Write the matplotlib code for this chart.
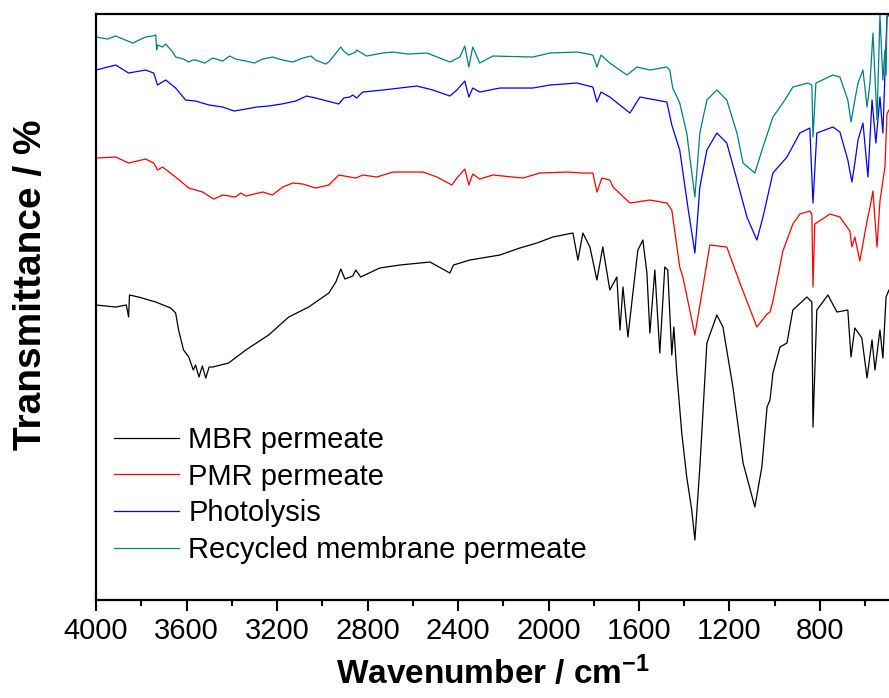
import matplotlib
matplotlib.use("Agg")
import matplotlib.pyplot as plt
from matplotlib.ticker import MultipleLocator

plt.rcParams["font.family"] = ["Liberation Sans", "DejaVu Sans"]
plt.rcParams["mathtext.fontset"] = "custom"
plt.rcParams["mathtext.rm"] = "Liberation Sans:bold"
plt.rcParams["mathtext.default"] = "rm"

# ---------------------------------------------------------------- data
# FTIR spectra (transmittance, arbitrary offset units)
mbr_wn = [4000, 3913, 3866, 3856, 3852, 3812, 3736, 3670, 3648, 3635, 3613, 3590,
          3570, 3560, 3545, 3530, 3515, 3500, 3484, 3414, 3338, 3237, 3148, 3060,
          2971, 2940, 2918, 2900, 2865, 2852, 2830, 2746, 2657, 2524, 2436, 2420,
          2348, 2215, 2127, 2051, 1981, 1892, 1870, 1848, 1817, 1786, 1760, 1729,
          1698, 1684, 1671, 1649, 1627, 1605, 1583, 1565, 1552, 1530, 1508, 1486,
          1473, 1455, 1446, 1433, 1411, 1389, 1367, 1353, 1331, 1300, 1256, 1229,
          1185, 1140, 1088, 1057, 1034, 1021, 1008, 977, 946, 920, 858, 836, 831,
          814, 765, 725, 677, 663, 646, 615, 592, 570, 557, 535, 522, 508, 495]
mbr_t = [59.0, 58.6, 59.0, 56.6, 61.0, 60.6, 59.6, 58.4, 57.4, 54.0, 50.0, 48.6,
         46.0, 47.0, 44.6, 46.8, 44.4, 46.6, 46.6, 47.4, 50.0, 53.0, 56.6, 58.6,
         61.4, 63.6, 66.2, 64.2, 64.8, 66.0, 64.6, 66.4, 67.0, 67.6, 65.4, 67.0,
         68.0, 69.0, 70.4, 71.4, 72.6, 73.4, 68.0, 73.4, 70.6, 64.0, 70.6, 62.0,
         64.6, 54.0, 62.6, 52.6, 61.4, 70.0, 72.0, 65.4, 53.4, 66.0, 49.4, 66.6,
         66.0, 49.0, 54.6, 45.4, 33.4, 24.6, 18.0, 12.0, 26.6, 51.4, 57.0, 54.6,
         42.6, 27.4, 18.6, 26.6, 38.6, 40.0, 45.4, 50.6, 51.4, 58.0, 60.6, 59.6,
         34.6, 58.0, 61.0, 57.6, 58.0, 48.6, 54.4, 52.4, 44.4, 52.0, 46.0, 54.0,
         48.4, 60.6, 62.0]

pmr_wn = [4000, 3913, 3856, 3781, 3745, 3728, 3706, 3648, 3590, 3529, 3480, 3440,
          3383, 3360, 3338, 3263, 3220, 3175, 3130, 3086, 3030, 2971, 2927, 2852,
          2821, 2759, 2688, 2555, 2493, 2427, 2405, 2370, 2352, 2335, 2304, 2246,
          2113, 2038, 1919, 1848, 1804, 1786, 1764, 1729, 1715, 1640, 1552, 1477,
          1455, 1420, 1406, 1353, 1322, 1287, 1212, 1154, 1079, 1034, 1021, 1008,
          964, 920, 889, 845, 836, 831, 823, 756, 712, 668, 659, 646, 624, 592, 579,
          566, 548, 535, 513, 504, 495]
pmr_t = [88.4, 88.6, 87.4, 88.2, 87.4, 86.0, 86.6, 84.6, 82.4, 81.6, 80.2, 81.0,
         80.6, 81.4, 80.8, 81.6, 81.0, 82.6, 83.4, 83.2, 82.4, 83.0, 85.0, 84.4,
         85.0, 84.6, 85.6, 85.6, 84.6, 83.0, 84.4, 86.2, 83.0, 85.2, 84.2, 85.0,
         84.4, 85.4, 85.6, 85.4, 85.4, 81.6, 84.4, 84.0, 82.6, 79.4, 80.0, 79.4,
         78.0, 66.6, 64.6, 53.0, 61.4, 71.0, 70.6, 63.4, 54.6, 57.2, 57.6, 59.8,
         69.8, 75.2, 77.2, 77.8, 77.2, 62.6, 75.2, 77.2, 76.6, 73.8, 70.6, 72.6,
         67.8, 75.8, 78.6, 81.8, 70.6, 79.8, 86.6, 97.2, 98.0]

pho_wn = [4000, 3913, 3856, 3781, 3745, 3728, 3692, 3648, 3604, 3560, 3500, 3440,
          3390, 3338, 3290, 3237, 3180, 3117, 3070, 3029, 2927, 2905, 2879, 2865,
          2848, 2821, 2733, 2582, 2511, 2436, 2405, 2370, 2352, 2335, 2304, 2215,
          2069, 1994, 1875, 1804, 1786, 1768, 1729, 1640, 1596, 1477, 1455, 1420,
          1384, 1353, 1331, 1300, 1256, 1212, 1167, 1123, 1079, 1052, 1008, 946,
          889, 845, 831, 814, 743, 712, 677, 659, 646, 632, 610, 588, 570, 553,
          535, 522, 504, 495]
pho_t = [106.0, 107.0, 105.4, 106.0, 105.4, 103.0, 104.0, 102.4, 100.0, 99.8,
         99.0, 98.6, 97.8, 98.2, 98.6, 98.8, 99.2, 99.8, 100.8, 100.4, 99.2,
         100.4, 100.6, 101.0, 100.4, 101.6, 102.0, 102.8, 102.0, 100.8, 102.0,
         103.8, 100.6, 102.4, 101.6, 102.4, 102.4, 103.0, 103.4, 102.6, 99.6,
         101.6, 100.6, 97.4, 100.6, 99.6, 95.0, 90.0, 78.6, 69.4, 82.6, 90.0,
         93.4, 91.4, 84.0, 76.6, 72.0, 76.6, 85.4, 88.6, 93.4, 94.4, 79.4, 93.4,
         94.6, 93.6, 88.0, 83.6, 87.4, 92.0, 95.4, 84.6, 100.0, 91.4, 100.6, 93.4,
         116.6, 117.0]

rec_wn = [4000, 3949, 3913, 3838, 3781, 3750, 3736, 3732, 3728, 3706, 3692, 3661,
          3648, 3613, 3590, 3573, 3560, 3520, 3484, 3440, 3410, 3383, 3338, 3300,
          3263, 3220, 3175, 3130, 3086, 3050, 3029, 2985, 2971, 2918, 2905, 2883,
          2852, 2848, 2804, 2733, 2688, 2620, 2537, 2436, 2392, 2370, 2352, 2335,
          2304, 2246, 2069, 1994, 1875, 1848, 1804, 1786, 1768, 1729, 1653, 1609,
          1552, 1477, 1464, 1451, 1420, 1389, 1353, 1331, 1300, 1256, 1212, 1167,
          1140, 1088, 1052, 1008, 964, 920, 853, 836, 831, 818, 743, 712, 677, 663,
          646, 632, 610, 592, 579, 566, 548, 535, 522, 513, 508, 504, 495]
rec_t = [112.6, 112.2, 112.8, 111.4, 112.6, 112.8, 113.0, 110.0, 111.0, 110.6,
         111.2, 109.6, 108.6, 108.2, 107.6, 108.0, 108.0, 107.4, 108.4, 107.8,
         108.8, 108.2, 107.8, 107.4, 108.2, 108.6, 108.0, 107.6, 108.4, 108.8,
         108.0, 107.2, 107.6, 110.6, 109.8, 109.0, 109.6, 110.0, 108.8, 109.4,
         109.6, 109.2, 109.4, 107.6, 108.6, 110.8, 106.6, 110.6, 107.4, 108.8,
         108.6, 109.4, 109.6, 109.4, 109.0, 106.6, 109.0, 107.4, 105.0, 106.6,
         106.0, 106.6, 106.0, 102.4, 99.4, 93.4, 80.6, 93.4, 100.0, 102.0, 100.0,
         93.4, 87.4, 85.4, 90.6, 96.6, 99.4, 102.6, 103.4, 103.0, 92.6, 103.4,
         105.0, 104.6, 100.0, 95.6, 100.0, 103.4, 106.0, 98.6, 103.4, 113.4, 96.0,
         117.0, 104.0, 110.0, 105.0, 117.0, 117.0]

labels = ["MBR permeate", "PMR permeate", "Photolysis", "Recycled membrane permeate"]
colors = ["black", "#ff0000", "#0000ff", "#008080"]

# ---------------------------------------------------------------- plot
fig = plt.figure(figsize=(8.89, 6.98), dpi=100)
ax = fig.add_axes([0.108, 0.1404, 0.892, 0.8395])

series = [(mbr_wn, mbr_t), (pmr_wn, pmr_t), (pho_wn, pho_t), (rec_wn, rec_t)]
for (wn, t), lab, c in zip(series, labels, colors):
    ax.plot(wn, t, color=c, lw=0.9, label=lab)

ax.set_xlim(4000, 495)
ax.set_ylim(0, 117.2)
ax.xaxis.set_major_locator(MultipleLocator(400))
ax.xaxis.set_minor_locator(MultipleLocator(200))
ax.set_yticks([])
ax.tick_params(axis="x", which="major", direction="out", length=8, width=1.5,
               labelsize=21, pad=4)
ax.tick_params(axis="x", which="minor", direction="out", length=4.5, width=1.5)
for s in ("left", "top", "bottom"):
    ax.spines[s].set_linewidth(1.6)
ax.spines["right"].set_visible(False)

ax.set_xlabel(r"Wavenumber / cm$^{-1}$", fontsize=24, fontweight="bold",
              labelpad=8)
ax.set_ylabel("Transmittance / %", fontsize=28, fontweight="bold")
ax.yaxis.set_label_coords(-0.059, 0.5375)

ax.legend(loc="upper left", bbox_to_anchor=(0.128, 0.39),
          bbox_transform=fig.transFigure, frameon=False, fontsize=21,
          handlelength=2.25, handletextpad=0.3, labelspacing=0.3,
          borderpad=0, borderaxespad=0)

fig.savefig("out.png", dpi=100)
